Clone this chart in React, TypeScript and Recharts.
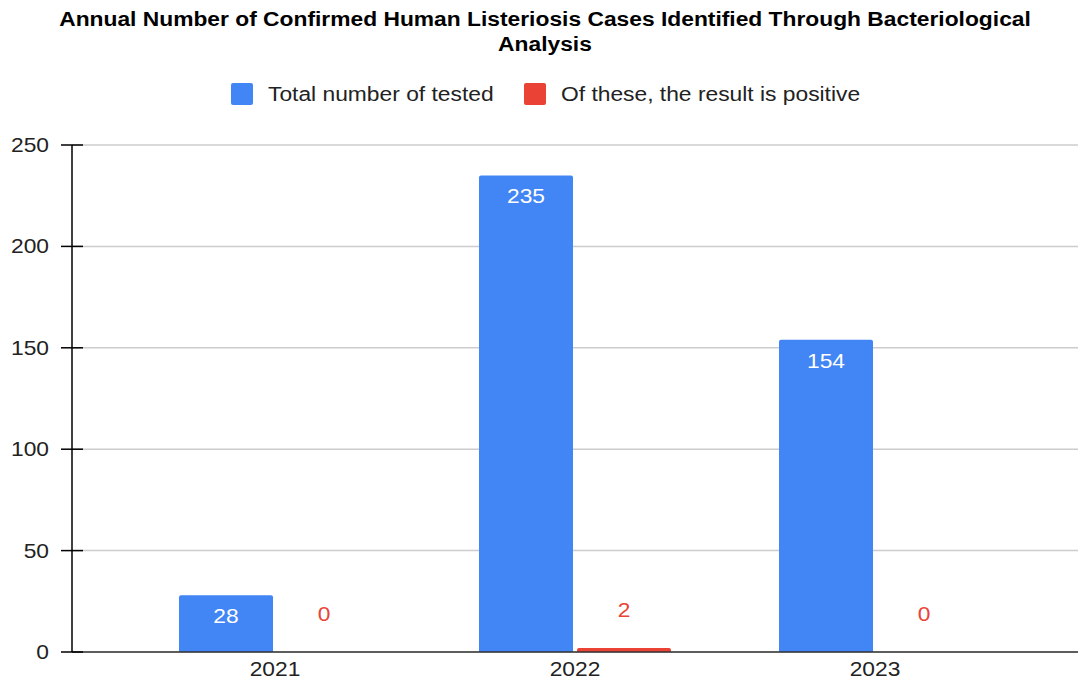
import React from 'react';
import { BarChart, Bar, XAxis, YAxis, CartesianGrid, LabelList } from 'recharts';

const years = ['2021', '2022', '2023'];
const totalTested = [28, 235, 154];
const positive = [0, 2, 0];
const yTicks = [0, 50, 100, 150, 200, 250];

const BLUE = '#4285F4';
const RED = '#EA4335';
const FONT = '"Liberation Sans", Arial, sans-serif';
const SX = 1.14; // reference text is a bit wide

const data = years.map((year, i) => ({
  year,
  total: totalTested[i],
  positive: positive[i],
}));

const WideText = ({ x, y, anchor, fill, children }: any) => (
  <text
    transform={`translate(${x},${y}) scale(${SX},1)`}
    textAnchor={anchor}
    fontSize={20}
    fill={fill}
    fontFamily={FONT}
  >
    {children}
  </text>
);

// y tick with a line crossing the axis on both sides
const YTick = (props: any) => {
  const { x, y, payload } = props;
  return (
    <g>
      <line x1={x - 11} x2={x + 11} y1={y} y2={y} stroke="#000" strokeWidth={1.5} />
      <WideText x={x - 23} y={y + 7} anchor="end" fill="#222">
        {payload.value}
      </WideText>
    </g>
  );
};

const XTick = (props: any) => {
  const { x, y, payload } = props;
  return (
    <WideText x={x} y={y + 24} anchor="middle" fill="#222">
      {payload.value}
    </WideText>
  );
};

const InsideLabel = (props: any) => {
  const { x, y, width, value } = props;
  return (
    <WideText x={x + width / 2} y={y + 28} anchor="middle" fill="#fff">
      {value}
    </WideText>
  );
};

const TopLabel = (props: any) => {
  const { x, y, width, height, value } = props;
  const top = Math.min(y, y + height);
  return (
    <WideText x={x + width / 2} y={top - 31} anchor="middle" fill={RED}>
      {value}
    </WideText>
  );
};

const LegendItem = ({ left, color, label }: { left: number; color: string; label: string }) => (
  <>
    <div
      style={{ position: 'absolute', left, top: 83, width: 22, height: 22, background: color, borderRadius: 2 }}
    />
    <div
      style={{
        position: 'absolute',
        left: left + 37,
        top: 82,
        fontSize: 20,
        lineHeight: '24px',
        color: '#222',
        whiteSpace: 'nowrap',
        transform: `scaleX(${SX})`,
        transformOrigin: 'left center',
      }}
    >
      {label}
    </div>
  </>
);

export default function App() {
  return (
    <div style={{ position: 'relative', width: 1078, height: 691, background: '#fff', fontFamily: FONT, overflow: 'hidden' }}>
      <style>{'body{margin:0}'}</style>
      <div
        style={{
          position: 'absolute',
          top: 7,
          left: 0,
          width: 1090,
          textAlign: 'center',
          fontWeight: 'bold',
          fontSize: 20,
          lineHeight: '25px',
          color: '#000',
          transform: `scaleX(${SX})`,
          transformOrigin: '545px 0',
        }}
      >
        Annual Number of Confirmed Human Listeriosis Cases Identified Through Bacteriological
        <br />
        Analysis
      </div>
      <LegendItem left={231} color={BLUE} label="Total number of tested" />
      <LegendItem left={524} color={RED} label="Of these, the result is positive" />
      <BarChart
        width={1078}
        height={691}
        data={data}
        margin={{ top: 145, right: 0, bottom: 0, left: 0 }}
        barGap={4}
        barSize={94}
      >
        <CartesianGrid vertical={false} stroke="#ccc" strokeWidth={1.5} />
        <XAxis
          dataKey="year"
          height={39}
          padding={{ left: 53, right: 53 }}
          axisLine={{ stroke: '#333', strokeWidth: 1.5 }}
          tickLine={false}
          tickSize={0}
          tickMargin={0}
          tick={<XTick />}
        />
        <YAxis
          width={72}
          domain={[0, 250]}
          ticks={yTicks}
          axisLine={{ stroke: '#000', strokeWidth: 1.5 }}
          tickLine={false}
          tickSize={0}
          tickMargin={0}
          tick={<YTick />}
        />
        <Bar dataKey="total" fill={BLUE} radius={[2, 2, 0, 0]} isAnimationActive={false}>
          <LabelList dataKey="total" content={<InsideLabel />} />
        </Bar>
        <Bar dataKey="positive" fill={RED} radius={[2, 2, 0, 0]} minPointSize={0.01} isAnimationActive={false}>
          <LabelList dataKey="positive" content={<TopLabel />} />
        </Bar>
      </BarChart>
    </div>
  );
}
